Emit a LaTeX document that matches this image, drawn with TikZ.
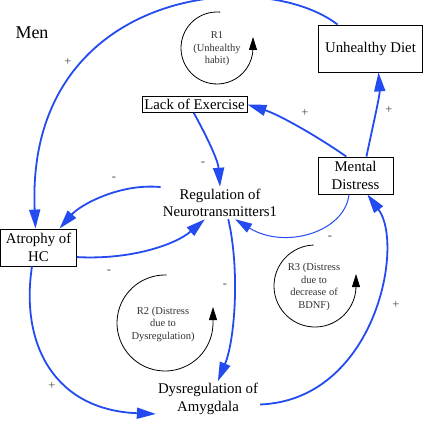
\documentclass[tikz,border=0pt]{standalone}
\usepackage{fontspec}
\setmainfont{Liberation Serif}
\usetikzlibrary{arrows.meta}
\definecolor{cldblue}{RGB}{35,75,240}
\definecolor{signgray}{RGB}{70,70,70}
\begin{document}
\begin{tikzpicture}[x=1pt,y=-1pt,
  varbox/.style={draw=black, line width=0.8pt, align=center, inner sep=1pt, font=\fontsize{14.8}{17.5}\selectfont},
  vartext/.style={align=center, inner sep=2pt, font=\fontsize{14.8}{17.5}\selectfont},
  link/.style={draw=cldblue, line width=1.8pt, -{Triangle[length=19pt,width=11pt]}},
  thinlink/.style={draw=cldblue, line width=1pt, -{Triangle[length=17pt,width=10pt]}},
  looparc/.style={draw=black, line width=0.8pt, -{Triangle[length=13pt,width=8pt]}},
  looplabel/.style={align=center, inner sep=0pt, text=black!80, font=\fontsize{10.5}{12.5}\selectfont},
  polsign/.style={text=signgray, inner sep=0pt, font=\fontsize{12.5}{12.5}\selectfont}]
\useasboundingbox[fill=white] (0,0) rectangle (424,438);

% title
\node[font=\fontsize{18}{18}\selectfont, inner sep=0pt] (men) at (32,33) {Men};

% variables
\node[varbox, minimum width=104pt, minimum height=47pt] (ud) at (370.5,48.5) {Unhealthy Diet};
\node[varbox, minimum width=105pt, minimum height=16pt] (le) at (194.5,104.5) {Lack of Exercise};
\node[varbox, minimum width=75pt, minimum height=37pt] (md) at (355.5,175.5) {Mental\\Distress};
\node[varbox, minimum width=76pt, minimum height=37pt] (ah) at (38.5,247.5) {Atrophy of\\HC};
\node[vartext] (rn) at (220,203) {Regulation of\\Neurotransmitters1};
\node[vartext] (da) at (208,399) {Dysregulation of\\Amygdala};

% loop labels
\node[looplabel] (r1) at (217,49) {R1\\(Unhealthy\\habit)};
\node[looplabel] (r2) at (163,324) {R2 (Distress\\due to\\Dysregulation)};
\node[looplabel] (r3) at (314,287) {R3 (Distress\\due to\\decrease of\\BDNF)};

% loop arcs
\draw[looparc] (217,48) ++(-85:36) arc[start angle=-85, end angle=-360, radius=36] -- ++(0,-11);
\draw[looparc] (165,323) ++(-88:48) arc[start angle=-88, end angle=-360, radius=48] -- ++(0,-16);
\draw[looparc] (315,286) ++(-92:41) arc[start angle=-92, end angle=-360, radius=41] -- ++(0,-12);

% connectors
\draw[link] (ud.144) .. controls (260,-35) and (25,-10) .. ([xshift=-3pt]ah.north);
\draw[link] (md.116) .. controls (320,138) and (280,115) .. (le.east);
\draw[link] (md.60) .. controls (372,130) and (380,95) .. ([xshift=8pt]ud.south);
\draw[link] (le.265) .. controls (206,135) and (218,160) .. (rn.north);
\draw[link] (rn.165) .. controls (120,183) and (80,205) .. ([xshift=21pt]ah.north);
\draw[link] (ah.346) .. controls (130,260) and (175,245) .. (rn.227);
\draw[thinlink] (md.251) .. controls (345,232) and (285,250) .. (rn.313);
\draw[link] (rn.297) .. controls (240,270) and (235,340) .. (da.61);
\draw[link] (ah.251) .. controls (20,345) and (55,410) .. (da.196);
\draw[link] (da.354) .. controls (375,400) and (405,245) .. (md.302);

% polarity signs
\node[polsign] (s1) at (68,62) {+};
\node[polsign] (s2) at (114,179) {-};
\node[polsign] (s3) at (203,164) {-};
\node[polsign] (s4) at (305,113) {+};
\node[polsign] (s5) at (389,110) {+};
\node[polsign] (s6) at (330,238) {-};
\node[polsign] (s7) at (109,272) {-};
\node[polsign] (s8) at (225,286) {-};
\node[polsign] (s9) at (52,386) {+};
\node[polsign] (s10) at (396,305) {+};
\end{tikzpicture}
\end{document}
